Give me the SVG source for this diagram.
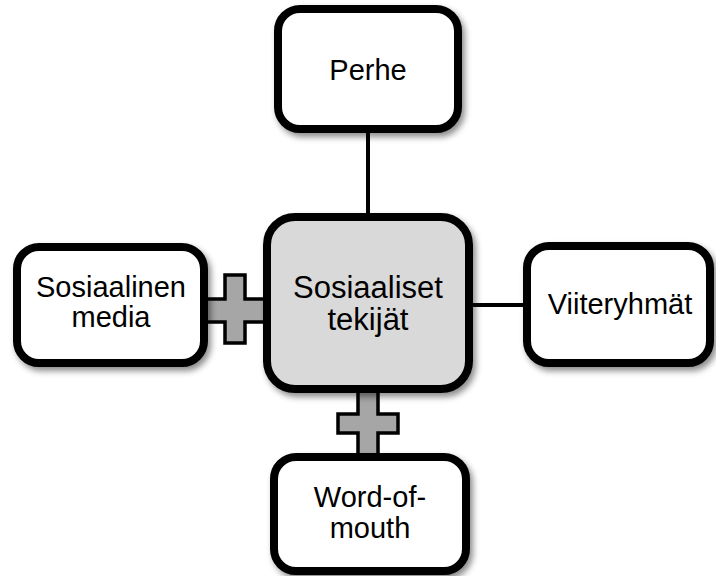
<svg xmlns="http://www.w3.org/2000/svg" width="716" height="576" viewBox="0 0 716 576">
  <defs>
    <filter id="shadow" x="-20%" y="-20%" width="140%" height="140%">
      <feDropShadow dx="3" dy="4" stdDeviation="3" flood-color="#000" flood-opacity="0.45"/>
    </filter>
  </defs>
  <style>
    .box { fill: #ffffff; stroke: #000; stroke-width: 8; filter: url(#shadow); }
    .hub { fill: #d9d9d9; stroke: #000; stroke-width: 8; filter: url(#shadow); }
    .label { font-family: "Liberation Sans", Arial, sans-serif; font-size: 29px; fill: #000; text-anchor: middle; }
    .hub-label { font-size: 31px; }
    .link { stroke: #000; stroke-width: 4; fill: none; }
    .plus { fill: #a6a6a6; stroke: #000; stroke-width: 3.5; stroke-linejoin: miter; }
  </style>

  <!-- connectors: plain lines and plus-shaped joints -->
  <g id="connectors">
    <line class="link" x1="368" y1="130" x2="368" y2="215"/>
    <line class="link" x1="470" y1="305" x2="526" y2="305"/>
    <!-- plus between social media and hub -->
    <polygon class="plus" points="225,275 245,275 245,299 266,299 266,322 245,322 245,343 225,343 225,322 204,322 204,299 225,299"/>
    <!-- plus between hub and word-of-mouth -->
    <polygon class="plus" points="358,390 378,390 378,414 398,414 398,433 378,433 378,458 358,458 358,433 338,433 338,414 358,414"/>
  </g>

  <g id="perhe">
    <rect class="box" x="278" y="9" width="180" height="120" rx="22"/>
    <text class="label" x="368" y="80">Perhe</text>
  </g>

  <g id="sosiaalinen-media">
    <rect class="box" x="17" y="247" width="187" height="116" rx="22"/>
    <text class="label" x="111" y="297">Sosiaalinen</text>
    <text class="label" x="111" y="327">media</text>
  </g>

  <g id="viiteryhmat">
    <rect class="box" x="527" y="246" width="183" height="117" rx="22"/>
    <text class="label" x="620" y="314">Viiteryhmät</text>
  </g>

  <g id="word-of-mouth">
    <rect class="box" x="274" y="457" width="192" height="114" rx="22"/>
    <text class="label" x="370" y="507">Word-of-</text>
    <text class="label" x="370" y="538">mouth</text>
  </g>

  <g id="sosiaaliset-tekijat">
    <rect class="hub" x="267" y="217" width="202" height="172" rx="28"/>
    <text class="label hub-label" x="368" y="298">Sosiaaliset</text>
    <text class="label hub-label" x="368" y="330">tekijät</text>
  </g>
</svg>
